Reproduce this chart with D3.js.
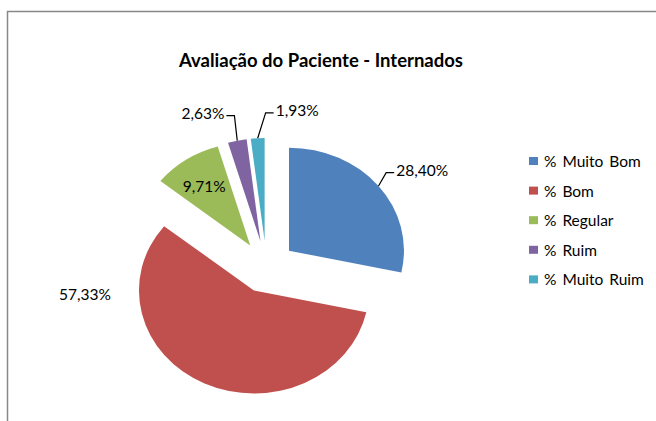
<!DOCTYPE html>
<html>
<head>
<meta charset="utf-8">
<script src="https://cdn.jsdelivr.net/npm/d3@7"></script>
<style>
  body { margin: 0; background: #fff; }
  text { font-family: Lato, "Open Sans", sans-serif; fill: #000; }
</style>
</head>
<body>
<div id="chart"></div>
<script>
// data
var categories = ["% Muito Bom", "% Bom", "% Regular", "% Ruim", "% Muito Ruim"];
var values = [28.40, 57.33, 9.71, 2.63, 1.93];
var valueLabels = ["28,40%", "57,33%", "9,71%", "2,63%", "1,93%"];
var colors = ["#4F81BD", "#C0504D", "#9BBB59", "#8064A2", "#4BACC6"];

var w = 656, h = 421;
var cx = 266.4, cy = 267;     // pie centre
var r = 115;                  // horizontal radius
var squash = 0.896;           // picture is a bit stretched sideways
var explode = 29;

// where Excel put the labels (angle in degrees, distance from slice tip)
var labelAngle = [55.8, 268.5, 325.3, 338.2, 12.5];
var labelDist = [161, 169, 81, 155, 150];
var hasLeader = [true, false, false, true, true];

var svg = d3.select("#chart")
	.append("svg")
	.attr("width", w)
	.attr("height", h);

// chart border (only top/left visible)
svg.append("path")
	.attr("d", "M7.5," + h + "V11.5H" + w)
	.attr("fill", "none")
	.attr("stroke", "#888")
	.attr("stroke-width", 1.5);

svg.append("text")
	.attr("x", 321)
	.attr("y", 60)
	.attr("text-anchor", "middle")
	.attr("dominant-baseline", "central")
	.style("font-weight", "bold")
	.style("font-size", "18.5px")
	.text("Avaliação do Paciente - Internados");

var pie = d3.pie().sort(null).value(function (d) { return d; });
var arcs = pie(values);
var arc = d3.arc().innerRadius(0).outerRadius(r);

var pieGroup = svg.append("g")
	.attr("transform", "translate(" + cx + "," + cy + ") scale(1," + squash + ")");

function mid(d) { return (d.startAngle + d.endAngle) / 2; }

pieGroup.selectAll("path")
	.data(arcs)
	.enter()
	.append("path")
	.attr("d", arc)
	.attr("fill", function (d, i) { return colors[i]; })
	.attr("transform", function (d) {
		var a = mid(d);
		return "translate(" + (explode * Math.sin(a)) + "," + (-explode * Math.cos(a)) + ")";
	});

// screen position of a point at angle/dist from the tip of slice d
function toScreen(d, ang, dist) {
	var a = mid(d);
	return [cx + explode * Math.sin(a) + dist * Math.sin(ang),
		cy + (-explode * Math.cos(a) - dist * Math.cos(ang)) * squash];
}

var labels = svg.append("g");
arcs.forEach(function (d, i) {
	var p = toScreen(d, labelAngle[i] * Math.PI / 180, labelDist[i]);
	var t = labels.append("text")
		.attr("x", p[0])
		.attr("y", p[1])
		.attr("text-anchor", "middle")
		.attr("dominant-baseline", "central")
		.style("font-size", "15.5px")
		.text(valueLabels[i]);

	if (hasLeader[i]) {
		var half = t.node().getComputedTextLength() / 2;
		var start = toScreen(d, mid(d), r);
		var right = p[0] > start[0];
		var edge = right ? p[0] - half - 2 : p[0] + half + 2;
		var elbow = right ? edge - 8 : edge + 8;
		var ly = p[1] + 3;
		labels.append("path")
			.attr("d", "M" + start[0] + "," + start[1] + "L" + elbow + "," + ly + "H" + edge)
			.attr("fill", "none")
			.attr("stroke", "#000")
			.attr("stroke-width", 1.2);
	}
});

// legend
var legend = svg.append("g")
	.selectAll("g")
	.data(categories)
	.enter()
	.append("g")
	.attr("transform", function (d, i) { return "translate(529," + (161 + i * 29.6) + ")"; });

legend.append("rect")
	.attr("x", 0)
	.attr("y", -4)
	.attr("width", 9)
	.attr("height", 8)
	.attr("fill", function (d, i) { return colors[i]; });

legend.append("text")
	.attr("x", 15)
	.attr("y", 0)
	.attr("dominant-baseline", "central")
	.style("font-size", "15.5px")
	.style("word-spacing", "2px")
	.text(function (d) { return d; });
</script>
</body>
</html>
